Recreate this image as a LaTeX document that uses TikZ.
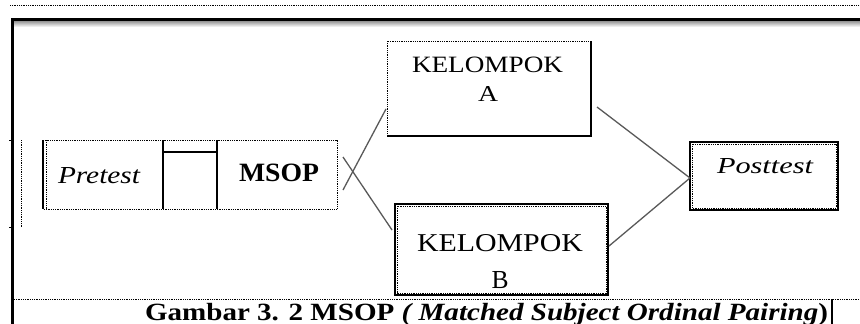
\documentclass[tikz,border=0pt]{standalone}
\usepackage{fontspec}
\setmainfont{Liberation Serif}
\usetikzlibrary{calc}
\tikzset{
  cell/.style={inner sep=0pt, outer sep=0pt, draw=none},
  dotline/.style={line width=0.9pt, dash pattern=on 0.9pt off 0.9pt},
  solidline/.style={line width=1.3pt},
  conn/.style={draw=black!65, line width=1.3pt},
  txt/.style={inner sep=0pt, outer sep=0pt, anchor=base west},
  txtc/.style={inner sep=0pt, outer sep=0pt, anchor=base},
}
\begin{document}
\begin{tikzpicture}[x=1pt,y=-1pt]
\useasboundingbox (0,0) rectangle (860,324);
% page frame
\draw[dotline] (10,5) -- (860,5);
\shade[top color=black!45, bottom color=white] (12,20.5) rectangle (860,27);
\draw[line width=3pt] (860,19) -- (12,19) -- (12,324);
\draw[dotline] (21,140) -- (21,227);
\draw[line width=1pt] (9,140) -- (13,140);
\draw[line width=1pt] (9,227) -- (13,227);
\draw[dotline] (14,299) -- (860,299);
% pretest / MSOP cells
\node[cell, minimum width=120pt, minimum height=69pt] (pre) at (103,174.5) {};
\node[cell, minimum width=54pt, minimum height=69pt] (mid) at (190,174.5) {};
\node[cell, minimum width=120pt, minimum height=69pt] (msop) at (277,174.5) {};
\draw[dotline] (pre.north west) -- (msop.north east) -- (msop.south east) -- (pre.south west);
\draw[dotline] ([xshift=3pt]pre.north west) -- ([xshift=3pt]pre.south west);
\draw[solidline] (pre.north west) -- (pre.south west);
\draw[solidline] (mid.north west) -- (mid.south west);
\draw[solidline] (mid.north east) -- (mid.south east);
\draw[line width=2.5pt] ([yshift=-12pt]mid.north west) -- ([yshift=-12pt]mid.north east);
\node[txt] (pretext) at (58,183) {\resizebox{82pt}{16pt}{\itshape Pretest}};
\node[txt] (msoptext) at (239,181) {\resizebox{80pt}{17.5pt}{\bfseries MSOP}};
% KELOMPOK A
\node[cell, minimum width=203pt, minimum height=94pt] (kelA) at (488.5,88) {};
\draw[dotline] (kelA.north west) rectangle (kelA.south east);
\draw[solidline] ([xshift=1pt]kelA.north east) -- ([xshift=1pt,yshift=-1pt]kelA.south east) -- ([yshift=-1pt]kelA.south west);
\node[txt] (kelAtext) at (412,72) {\resizebox{151pt}{15.5pt}{KELOMPOK}};
\node[txtc] (kelAlab) at (488,101) {\resizebox{20pt}{15pt}{A}};
% KELOMPOK B
\node[cell, minimum width=213pt, minimum height=91pt] (kelB) at (501.5,249.5) {};
\draw[solidline] (kelB.north west) rectangle (kelB.south east);
\draw[dotline] ([xshift=2pt,yshift=-2pt]kelB.north west) rectangle ([xshift=-2pt,yshift=2pt]kelB.south east);
\node[txt] (kelBtext) at (417,251) {\resizebox{166pt}{17pt}{KELOMPOK}};
\node[txtc] (kelBlab) at (500,288) {\resizebox{17pt}{17pt}{B}};
% Posttest
\node[cell, minimum width=148pt, minimum height=68pt] (post) at (764,176) {};
\draw[solidline] (post.north west) rectangle (post.south east);
\draw[dotline] ([xshift=2pt,yshift=-2pt]post.north west) rectangle ([xshift=-2pt,yshift=2pt]post.south east);
\node[txt] (posttext) at (717,173) {\resizebox{96pt}{15pt}{\itshape Posttest}};
% connectors
\draw[conn] ($(msop.east)+(6,15.5)$) -- ($(kelA.west)+(-1,21)$);
\draw[conn] ($(msop.east)+(6,-17.5)$) -- ($(kelB.west)+(-3,-19.5)$);
\draw[conn] ($(kelA.east)+(7,19)$) -- ($(post.west)+(0,2)$);
\draw[conn] ($(kelB.east)+(1,-3.5)$) -- ($(post.west)+(0,2)$);
% caption
\node[txt] (caption) at (145,320) {\resizebox{683pt}{17.2pt}{\bfseries Gambar 3. 2 MSOP \textit{( Matched Subject Ordinal Pairing}\/)}};
\draw[line width=2.5pt] (832,299) -- (832,324);
\end{tikzpicture}
\end{document}
